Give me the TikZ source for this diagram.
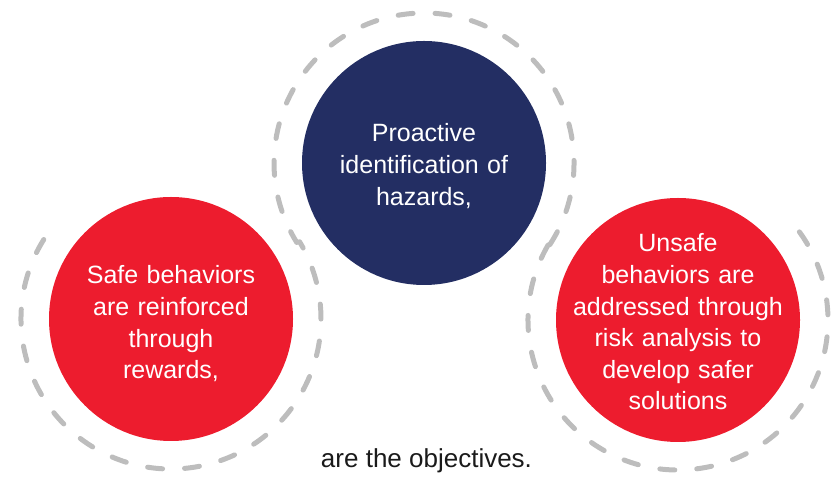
\documentclass[tikz,border=0pt]{standalone}
\usepackage{fontspec}
\setmainfont{Liberation Sans}
\definecolor{cred}{HTML}{ED1C2E}
\definecolor{cnavy}{HTML}{232E63}
\definecolor{cring}{HTML}{BDBDBD}
\definecolor{ctext}{HTML}{1A1A1A}
\begin{document}
\begin{tikzpicture}[x=1pt,y=1pt,
  disc/.style={circle,minimum size=244pt,inner sep=0pt},
  ring/.style={draw=cring,line width=5pt,line cap=round,dash pattern=on 15pt off 22pt},
  intext/.style={text=white,text width=240pt,align=center,anchor=base,inner sep=0pt,
    font=\fontsize{25}{31.6}\selectfont}]
\useasboundingbox (0,0) rectangle (832,484);
% circles
\node[disc,fill=cnavy] (top) at (424,321) {};
\node[disc,fill=cred] (left) at (171,165) {};
\node[disc,fill=cred] (right) at (678,164) {};
% dashed rings
\draw[ring] (top.center) ++(-33:150) arc[start angle=-33,end angle=212,radius=150];
\draw[ring] (left.center) ++(148:150) arc[start angle=148,end angle=391,radius=150];
\draw[ring] (right.center) ++(150:150) arc[start angle=150,end angle=400,radius=150];
% texts
\node[intext] (ttop) at (424,342) {Proactive\\identification of\\hazards,};
\node[intext] (tleft) at (171,200) {Safe behaviors\\are reinforced\\through\\rewards,};
\node[intext] (tright) at (678,232) {Unsafe\\behaviors are\\addressed through\\risk analysis to\\develop safer\\solutions};
\node[anchor=base,inner sep=0pt,text=ctext,font=\fontsize{26}{31}\selectfont] (bottom) at (426.5,16) {are the objectives.};
\end{tikzpicture}
\end{document}
